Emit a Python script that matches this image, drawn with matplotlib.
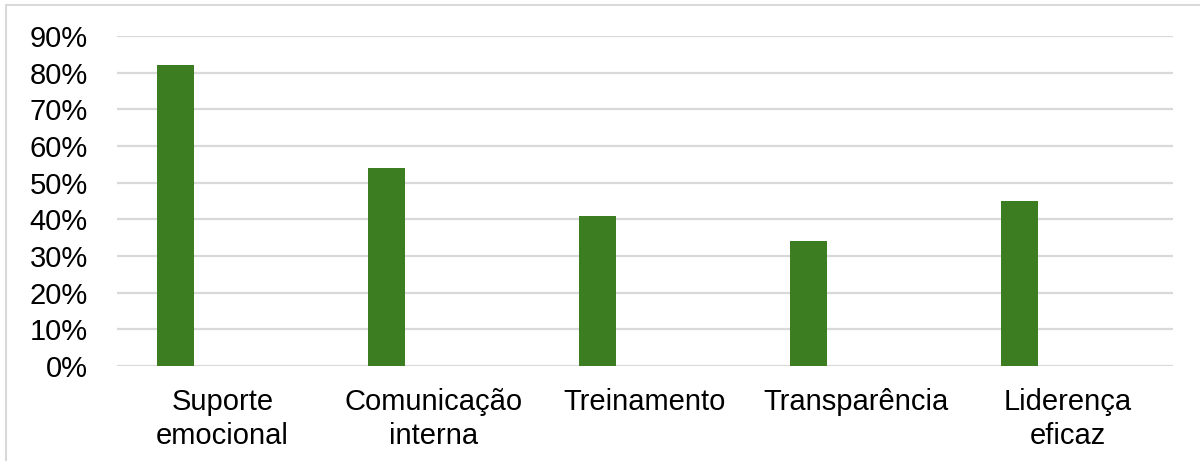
import numpy as np
import matplotlib
matplotlib.use('Agg')
from matplotlib import pyplot as plt
from matplotlib.patches import Rectangle
from matplotlib.ticker import PercentFormatter

categorias = ['Suporte\nemocional', 'Comunicação\ninterna', 'Treinamento', 'Transparência', 'Liderença\neficaz']
valores = [82, 54, 41, 34, 45]
yticks = [0, 10, 20, 30, 40, 50, 60, 70, 80, 90]

plt.rcParams['font.family'] = ['Liberation Sans', 'DejaVu Sans']

fig = plt.figure(figsize=(12, 4.61), dpi=100)
ax = fig.add_axes([0.0975, 0.206, 0.88, 0.716])

x = np.arange(len(categorias))
ax.bar(x + 0.275, valores, width=0.175, color='#3c7d22', zorder=3)

ax.set_xlim(0, len(categorias))
ax.set_ylim(0, 90)
ax.set_yticks(yticks)
ax.yaxis.set_major_formatter(PercentFormatter(decimals=0))
ax.set_xticks(x + 0.5)
ax.set_xticklabels(categorias, linespacing=1.25)
ax.tick_params(axis='both', length=0, labelsize=21, colors='black')
ax.tick_params(axis='y', pad=21)
ax.tick_params(axis='x', pad=16)
ax.grid(axis='y', color='#d9d9d9', linewidth=1.6, zorder=0)
for s in ax.spines.values():
    s.set_visible(False)

fig.patches.append(Rectangle((0.005, -0.01), 1.0, 0.999, transform=fig.transFigure,
                             fill=False, edgecolor='#d9d9d9', linewidth=1.5))

fig.savefig('out.png', dpi=100)
